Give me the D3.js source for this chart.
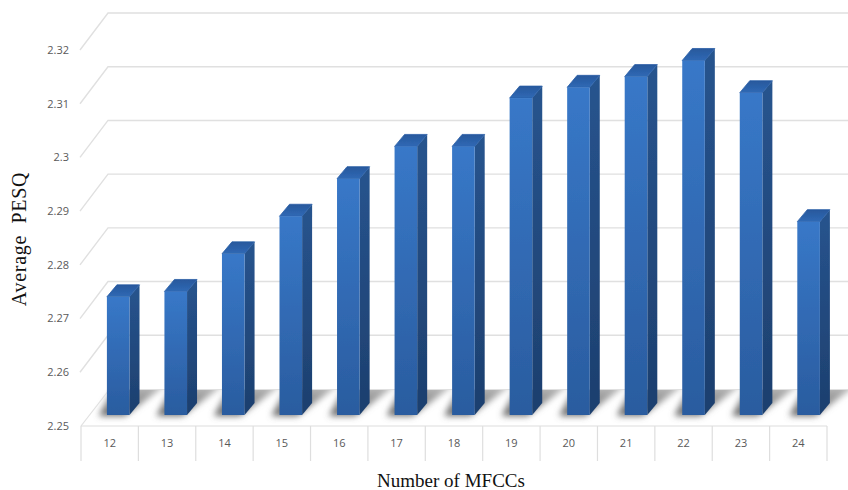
<!DOCTYPE html>
<html><head><meta charset="utf-8">
<script src="https://cdn.jsdelivr.net/npm/d3@7"></script>
<style>html,body{margin:0;padding:0;background:#fff}svg{display:block}</style>
</head><body><svg id="c" width="848" height="490"></svg>
<script>
const categories = [12,13,14,15,16,17,18,19,20,21,22,23,24];
const pesqValues = [2.272,2.273,2.280,2.287,2.294,2.300,2.300,2.309,2.311,2.313,2.316,2.310,2.286];
const yTicks = [2.25,2.26,2.27,2.28,2.29,2.30,2.31,2.32];
const yTickLabels = ["2.25","2.26","2.27","2.28","2.29","2.3","2.31","2.32"];
const xTitle = "Number of MFCCs";
const yTitle = "Average  PESQ";

const svg = d3.select("#c");
const W = 848;

// Oblique projection: the front plane sits on the axes, the back wall is offset by these amounts.
const wallDX = 28, wallDY = -37;
const barDX = 10, barDY = -12;

const x = d3.scaleBand().domain(categories).range([81, 827]);
const y = d3.scaleLinear().domain([2.25, 2.32]).range([426, 50]);
const yBar = d3.scaleLinear().domain([2.25, 2.32]).range([415, 39]);
const barWidth = 22.6;
const barCentre = d3.scalePoint().domain(categories).range([118.2, 808.6]);
const barX = c => barCentre(c) - barWidth/2;

const defs = svg.append("defs");
const vGrad = (id, top, bottom) => {
  const g = defs.append("linearGradient").attr("id", id).attr("x1",0).attr("x2",0).attr("y1",0).attr("y2",1);
  g.append("stop").attr("offset","0%").attr("stop-color",top);
  g.append("stop").attr("offset","100%").attr("stop-color",bottom);
};
vGrad("front","#3878c8","#2a5c9f");
vGrad("side","#27548e","#1d3f6e");
vGrad("top","#28589c","#2f69b5");
vGrad("shade","#c0c0c0","#666666");
defs.append("filter").attr("id","soft").attr("x","-40%").attr("y","-40%").attr("width","180%").attr("height","180%")
  .append("feGaussianBlur").attr("stdDeviation",3);
defs.append("filter").attr("id","edge").attr("x","-10%").attr("y","-10%").attr("width","120%").attr("height","120%")
  .append("feGaussianBlur").attr("stdDeviation",0.5);

// Back wall gridlines with their left-wall returns
const grid = svg.append("g").attr("fill","none").attr("stroke","#e0e0e0").attr("stroke-width",1.4);
yTicks.slice(1).forEach(t => {
  grid.append("polyline").attr("points",[[80,y(t)],[80+wallDX,y(t)+wallDY],[W,y(t)+wallDY]].join(" "));
});

// Floor shadow cast behind the row of bars
const shadowG = svg.append("g").attr("filter","url(#soft)");
categories.forEach(c => {
  const bx = barX(c);
  const pts = [[bx-8,416],[bx+18,416],[bx+60,384],[bx+8,384]];
  shadowG.append("polygon").attr("points",pts.join(" ")).attr("fill","url(#shade)");
});
svg.append("rect").attr("x",90).attr("y",370).attr("width",W-90).attr("height",19.5).attr("fill","#fff");
svg.append("line").attr("x1",109).attr("x2",W).attr("y1",389.5).attr("y2",389.5).attr("stroke","#e0e0e0").attr("stroke-width",1);
svg.append("line").attr("x1",81).attr("y1",426).attr("x2",109).attr("y2",390).attr("stroke","#e0e0e0").attr("stroke-width",1.2);

// Category table under the floor
const table = svg.append("g").attr("stroke","#dedede").attr("stroke-width",1.2);
table.append("line").attr("x1",81).attr("x2",827).attr("y1",426).attr("y2",426);
d3.range(categories.length+1).forEach(i => {
  const px = i < categories.length ? x(categories[i]) : 827;
  table.append("line").attr("x1",px).attr("x2",px).attr("y1",426).attr("y2",461);
});

// Three-faced bars
const bars = svg.append("g").attr("filter","url(#edge)");
categories.forEach((c,i) => {
  const bx = barX(c), top = yBar(pesqValues[i]), bot = yBar(2.25);
  const g = bars.append("g");
  g.append("polygon").attr("points",[[bx+barWidth,top],[bx+barWidth+barDX,top+barDY],[bx+barWidth+barDX,bot+barDY],[bx+barWidth,bot]].join(" ")).attr("fill","url(#side)");
  g.append("polygon").attr("points",[[bx,top],[bx+barDX,top+barDY],[bx+barWidth+barDX,top+barDY],[bx+barWidth,top]].join(" ")).attr("fill","url(#top)").attr("stroke","#2a5ea6").attr("stroke-width",0.8).attr("stroke-linejoin","round");
  g.append("rect").attr("x",bx).attr("y",top).attr("width",barWidth).attr("height",bot-top).attr("fill","url(#front)");
});

// Tick labels
svg.append("g").selectAll("text").data(yTicks).join("text")
  .attr("x",69).attr("y",d=>y(d)).attr("dy","0.35em").attr("text-anchor","end")
  .attr("font-family","'Open Sans','Noto Sans',sans-serif").attr("font-size",11).attr("fill","#595959")
  .text((d,i)=>yTickLabels[i]);
svg.append("g").selectAll("text").data(categories).join("text")
  .attr("x",d=>x(d)+x.bandwidth()/2).attr("y",443).attr("dy","0.35em").attr("text-anchor","middle")
  .attr("font-family","'Open Sans','Noto Sans',sans-serif").attr("font-size",11).attr("fill","#595959")
  .text(d=>d);

// Axis titles
svg.append("text").attr("x",451).attr("y",487).attr("text-anchor","middle")
  .attr("font-family","'Liberation Serif',serif").attr("font-size",19).attr("fill","#111").text(xTitle);
svg.append("text").attr("transform","translate(26,239) rotate(-90)").attr("text-anchor","middle")
  .attr("font-family","'Liberation Serif',serif").attr("font-size",20).attr("letter-spacing",0.7).attr("fill","#111").attr("xml:space","preserve").text(yTitle);
</script></body></html>
